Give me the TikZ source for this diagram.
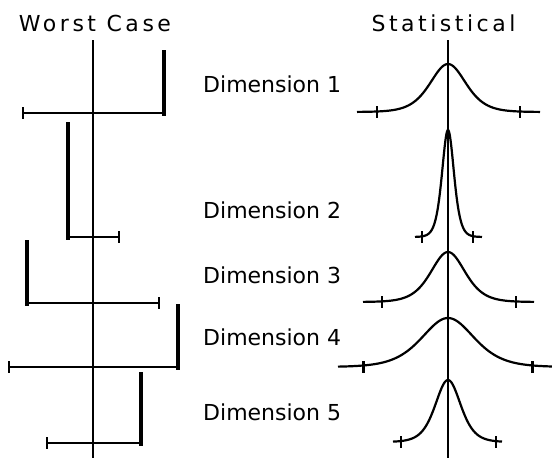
\documentclass[tikz,border=0pt]{standalone}
\usepackage{fontspec}
\setmainfont{DejaVu Sans}
\newfontfamily\titlefont[LetterSpace=16]{DejaVu Sans}
\tikzset{
  axisline/.style={line width=2pt},
  thinline/.style={line width=2.2pt},
  thickbar/.style={line width=4.4pt},
  curveline/.style={line width=2.2pt, line join=round},
  label/.style={font=\fontsize{22}{24}\selectfont, inner sep=0pt, anchor=base west},
  title/.style={font=\titlefont\fontsize{22}{24}\selectfont, inner sep=0pt, anchor=base}
}
% #1 baseline y, #2 height, #3 width param, #4 left end, #5 right end, #6 left tick, #7 right tick
\newcommand\distcurve[7]{%
  \draw[curveline] plot[domain=#4:#5, samples=181, smooth] ({448+\x},{#1-4*#2/((exp(\x/#3)+exp(-\x/#3))^2)});
  \draw[thinline] (448+#6,#1-6) -- (448+#6,#1+6);
  \draw[thinline] (448+#7,#1-6) -- (448+#7,#1+6);
}
% #1 y, #2 left x, #3 right x, #4 tick x, #5 bar x, #6 bar top
\newcommand\wcrow[6]{%
  \draw[thinline] (#2,#1) -- (#3,#1);
  \draw[thinline] (#4,#1-6) -- (#4,#1+6);
  \draw[thickbar] (#5,#6) -- (#5,#1+3);
}
\begin{document}
\begin{tikzpicture}[x=1pt,y=-1pt]
\useasboundingbox (0,0) rectangle (552,458);
% titles
\node[title] (wc) at (95,31) {Worst Case};
\node[title] (st) at (443.5,31) {Statistical};
% labels
\node[label] (d1) at (203,92) {Dimension 1};
\node[label] (d2) at (203,218) {Dimension 2};
\node[label] (d3) at (203,283) {Dimension 3};
\node[label] (d4) at (203,345) {Dimension 4};
\node[label] (d5) at (203,420) {Dimension 5};
% axes
\draw[axisline] (93,40) -- (93,458);
\draw[axisline] (448,40) -- (448,458);
% worst case
\wcrow{113}{23}{164}{23}{164}{50}
\wcrow{237}{68}{119}{119}{68}{122}
\wcrow{303}{27}{159}{159}{27}{240}
\wcrow{367}{9}{178}{9}{178}{304}
\wcrow{443}{47}{141}{47}{141}{372}
% statistical
\distcurve{112}{48}{24}{-91}{92}{-71}{72}
\distcurve{237}{107}{8}{-33}{34}{-26}{25}
\distcurve{302}{50}{23}{-85}{86}{-66}{68}
\distcurve{367}{49}{35}{-110}{105}{-84.5}{84.5}
\distcurve{442}{62}{17}{-55}{54}{-47}{48}
\end{tikzpicture}
\end{document}
